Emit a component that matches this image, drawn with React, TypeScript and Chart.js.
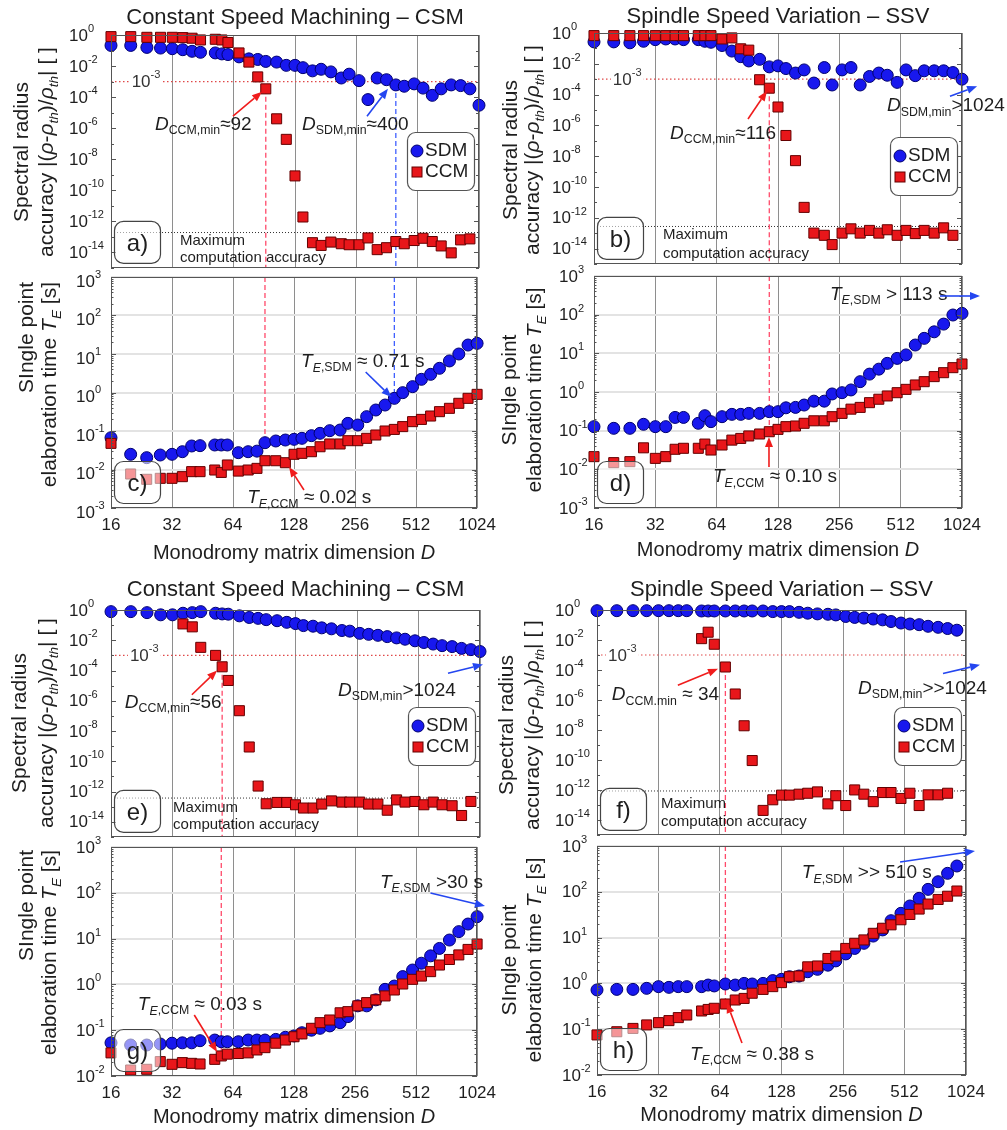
import React, { useEffect, useRef } from 'react';
import { Chart, registerables } from 'chart.js';

Chart.register(...registerables);

const FONT = '"Liberation Sans", Arial, Helvetica, sans-serif';

// ---------------- DATA ----------------
// Monodromy matrix dimension D (shared x positions)
const D_VALUES = [16, 20, 24, 28, 32, 36, 40, 44, 52, 56, 60, 68, 76, 84, 92, 104, 116, 128, 140, 156, 172, 192, 216, 236, 264, 292, 324, 360, 400, 440, 492, 544, 604, 668, 748, 832, 924, 1024];
const X_TICKS = [16, 32, 64, 128, 256, 512, 1024];
const ACC_EXPONENTS = [0, -2, -4, -6, -8, -10, -12, -14];
const TIME_EXPONENTS_CD = [3, 2, 1, 0, -1, -2, -3];
const TIME_EXPONENTS_GH = [3, 2, 1, 0, -1, -2];

// a) CSM spectral radius accuracy
const csmAccuracySDM = [0.213, 0.213, 0.159, 0.144, 0.131, 0.113, 0.089, 0.077, 0.070, 0.0605, 0.055, 0.039, 0.029, 0.0266, 0.0199, 0.018, 0.0111, 0.0111, 0.0079, 0.0049, 0.0062, 0.0042, 0.0017, 0.003, 0.00115, 6.9e-5, 0.0017, 0.00132, 6.1e-4, 5.0e-4, 7.1e-4, 3.8e-4, 1.3e-4, 3.4e-4, 6.1e-4, 5.5e-4, 3.4e-4, 3.0e-5];
const csmAccuracyCCM = [0.785, 0.785, 0.71, 0.71, 0.71, 0.68, 0.62, 0.48, 0.53, 0.48, 0.33, 0.070, 0.018, 0.002, 3.4e-4, 4.0e-6, 1.9e-7, 8.4e-10, 1.9e-12, 4.2e-14, 2.8e-14, 4.6e-14, 3.6e-14, 3.1e-14, 3.1e-14, 8.5e-14, 1.5e-14, 2.0e-14, 5.0e-14, 3.6e-14, 5.8e-14, 8.1e-14, 5.0e-14, 2.6e-14, 9.3e-15, 6.4e-14, 7.4e-14, null];

// b) SSV spectral radius accuracy
const ssvAccuracySDM = [0.265, 0.265, 0.23, 0.29, 0.37, 0.41, 0.41, 0.37, 0.37, 0.29, 0.25, 0.154, 0.067, 0.029, 0.0153, 0.0195, 0.0063, 0.0073, 0.0049, 0.0025, 0.004, 5.6e-4, 0.0057, 4.2e-4, 0.004, 0.0057, 4.2e-4, 0.0015, 0.0025, 0.0018, 6.2e-4, 0.004, 0.0017, 0.0035, 0.0035, 0.0035, 0.0027, 0.001];
const ssvAccuracyCCM = [0.675, 0.675, 0.675, 0.675, 0.675, 0.675, 0.675, 0.675, 0.675, 0.675, 0.675, 0.41, 0.48, 0.094, 0.077, 9.2e-4, 2.6e-4, 1.56e-5, 2.2e-7, 5.1e-9, 4.7e-12, 1.0e-13, 7.2e-14, 1.8e-14, 1.0e-13, 1.9e-13, 1.0e-13, 1.5e-13, 1.0e-13, 1.65e-13, 7.2e-14, 1.5e-13, 9.3e-14, 1.5e-13, 1.0e-13, 2.2e-13, 7.2e-14, null];

// c) CSM elaboration time [s]
const csmTimeSDM = [0.067, 0.0248, 0.0203, 0.0238, 0.0248, 0.029, 0.0408, 0.0416, 0.0433, 0.0433, 0.0433, 0.0274, 0.029, 0.030, 0.0497, 0.055, 0.0583, 0.0608, 0.0645, 0.0757, 0.087, 0.102, 0.106, 0.158, 0.143, 0.236, 0.351, 0.473, 0.705, 0.99, 1.42, 2.2, 2.96, 4.25, 6.6, 10.0, 17.1, 18.9];
const csmTimeCCM = [0.0478, 0.00764, 0.00556, 0.0059, 0.0059, 0.00652, 0.0088, 0.0088, 0.0097, 0.0084, 0.0131, 0.0091, 0.0097, 0.0107, 0.0169, 0.0169, 0.015, 0.0248, 0.0263, 0.029, 0.039, 0.046, 0.046, 0.056, 0.056, 0.0645, 0.0787, 0.100, 0.110, 0.13, 0.175, 0.20, 0.245, 0.318, 0.388, 0.524, 0.705, 0.895];

// d) SSV elaboration time [s]
const ssvTimeSDM = [0.127, 0.115, 0.115, 0.146, 0.127, 0.127, 0.22, 0.22, 0.155, 0.244, 0.171, 0.23, 0.264, 0.264, 0.28, 0.28, 0.31, 0.31, 0.39, 0.40, 0.46, 0.58, 0.58, 0.89, 0.96, 1.13, 1.85, 2.9, 3.9, 5.5, 7.4, 9.1, 16.4, 24.4, 36, 57, 98, 108];
const ssvTimeCCM = [0.0213, 0.0149, 0.0158, 0.036, 0.0192, 0.0213, 0.033, 0.035, 0.035, 0.045, 0.0316, 0.0426, 0.057, 0.063, 0.073, 0.082, 0.094, 0.108, 0.127, 0.132, 0.155, 0.18, 0.18, 0.23, 0.28, 0.36, 0.40, 0.53, 0.65, 0.79, 0.96, 1.17, 1.52, 1.85, 2.5, 3.16, 4.26, 5.3];

// e) CSM (second case) spectral radius accuracy
const csm2AccuracySDM = [0.78, 0.78, 0.67, 0.48, 0.48, 0.61, 0.67, 0.78, 0.61, 0.55, 0.53, 0.41, 0.32, 0.28, 0.23, 0.196, 0.153, 0.126, 0.093, 0.085, 0.066, 0.057, 0.044, 0.040, 0.0285, 0.0246, 0.0212, 0.0174, 0.0143, 0.0117, 0.0092, 0.0071, 0.0056, 0.0044, 0.0038, 0.0029, 0.0024, 0.0018];
const csm2AccuracyCCM = [null, null, null, null, null, 0.12, 0.077, 0.0034, 1.0e-3, 1.76e-4, 2.2e-5, 2.2e-7, 8.8e-10, 2.3e-12, 1.55e-13, 1.9e-13, 1.9e-13, 1.33e-13, 8.1e-14, 8.1e-14, 1.48e-13, 2.4e-13, 2.0e-13, 2.0e-13, 2.0e-13, 1.48e-13, 1.48e-13, 5.8e-14, 2.8e-13, 2.0e-13, 2.2e-13, 1.33e-13, 2.0e-13, 1.33e-13, 1.15e-13, 2.6e-14, 2.2e-13, null];

// f) SSV (second case) spectral radius accuracy
const ssv2AccuracySDM = [0.9, 0.9, 0.9, 0.9, 0.9, 0.9, 0.9, 0.9, 0.86, 0.86, 0.86, 0.86, 0.86, 0.86, 0.86, 0.86, 0.78, 0.78, 0.78, 0.70, 0.61, 0.55, 0.52, 0.47, 0.37, 0.32, 0.29, 0.25, 0.22, 0.17, 0.135, 0.116, 0.105, 0.082, 0.070, 0.058, 0.045, null];
const ssv2AccuracyCCM = [null, null, null, null, null, null, null, null, 0.0123, 0.033, 0.0052, 1.58e-4, 2.5e-6, 1.9e-8, 9.1e-11, 4.3e-14, 2.2e-13, 4.5e-13, 4.5e-13, 5.2e-13, 6.0e-13, 7.4e-13, 1.17e-13, 4.1e-13, 9.1e-14, 1.0e-12, 5.2e-13, 1.65e-13, 6.7e-13, 6.7e-13, 2.7e-13, 6.0e-13, 9.1e-14, 4.7e-13, 4.7e-13, 6.0e-13, null, null];

// g) CSM (second case) elaboration time [s]
const csm2TimeSDM = [0.053, 0.0475, 0.0475, 0.050, 0.052, 0.053, 0.053, 0.059, 0.061, 0.056, 0.056, 0.056, 0.061, 0.061, 0.061, 0.063, 0.07, 0.075, 0.088, 0.10, 0.11, 0.124, 0.146, 0.198, 0.34, 0.34, 0.46, 0.78, 0.92, 1.48, 2.06, 2.9, 4.2, 6.1, 9.3, 14.2, 20.8, 30.1];
const csm2TimeCCM = [0.032, 0.0135, 0.014, 0.0206, 0.018, 0.0196, 0.0189, 0.0183, 0.0231, 0.0274, 0.030, 0.031, 0.032, 0.037, 0.0416, 0.052, 0.061, 0.072, 0.083, 0.11, 0.146, 0.167, 0.24, 0.254, 0.34, 0.40, 0.46, 0.56, 0.755, 1.02, 1.29, 1.52, 1.9, 2.65, 3.5, 4.4, 5.8, 7.6];

// h) SSV (second case) elaboration time [s]
const ssv2TimeSDM = [0.72, 0.74, 0.74, 0.78, 0.85, 0.82, 0.85, 0.85, 0.85, 0.92, 0.88, 0.97, 0.92, 1.0, 0.97, 1.0, 1.15, 1.23, 1.40, 1.45, 1.80, 2.03, 2.5, 3.1, 4.4, 5.8, 7.5, 10.8, 14.7, 23.4, 33.9, 49, 72, 113, 166, 253, 366, null];
const ssv2TimeCCM = [0.075, 0.088, 0.104, 0.124, 0.139, 0.154, 0.179, 0.204, 0.25, 0.27, 0.286, 0.355, 0.434, 0.47, 0.61, 0.74, 0.85, 1.04, 1.4, 1.45, 2.3, 2.4, 3.5, 3.96, 5.8, 7.5, 8.9, 12.4, 16.0, 19, 24.5, 32, 42, 54, 68, 80, 104, null];

// ---------------- STYLE ----------------
const BLUE = '#1818ee';
const BLUE_EDGE = '#00006e';
const RED = '#e8161a';
const RED_EDGE = '#640000';
const RED_LINE = '#ff4a6a';
const BLUE_LINE = '#4060ff';
const ARROW_RED = '#f01c1c';
const ARROW_BLUE = '#2446f0';
const TEXT = '#1e1e1e';

type Seg = { t: string; i?: boolean; sub?: boolean; sup?: boolean };

const segD = (sub: string, rest: string): Seg[] => [{ t: 'D', i: true }, { t: sub, sub: true }, { t: rest }];
const segT = (sub: string, rest: string): Seg[] => [{ t: 'T', i: true }, { t: 'E', sub: true, i: true }, { t: sub, sub: true }, { t: rest }];

const ACC_TITLE: Seg[][] = [
  [{ t: 'Spectral radius' }],
  [{ t: 'accuracy |(' }, { t: 'ρ', i: true }, { t: '-' }, { t: 'ρ', i: true }, { t: 'th', sub: true, i: true }, { t: ')/' }, { t: 'ρ', i: true }, { t: 'th', sub: true, i: true }, { t: '| [ ]' }],
];
const TIME_TITLE: Seg[][] = [
  [{ t: 'SIngle point' }],
  [{ t: 'elaboration time ' }, { t: 'T', i: true }, { t: 'E', sub: true, i: true }, { t: ' [s]' }],
];
const X_TITLE: Seg[] = [{ t: 'Monodromy matrix dimension ' }, { t: 'D', i: true }];

function fontOf(size: number, italic?: boolean) {
  return `${italic ? 'italic ' : ''}${size}px ${FONT}`;
}

function richWidth(ctx: CanvasRenderingContext2D, segs: Seg[], size: number) {
  let w = 0;
  for (const s of segs) {
    const sz = s.sub || s.sup ? size * 0.65 : size;
    ctx.font = fontOf(sz, s.i);
    w += ctx.measureText(s.t).width;
  }
  return w;
}

function drawRich(ctx: CanvasRenderingContext2D, segs: Seg[], x: number, y: number, size: number, align: string, color: string) {
  const w = richWidth(ctx, segs, size);
  let px = align === 'left' ? x : align === 'center' ? x - w / 2 : x - w;
  ctx.fillStyle = color;
  ctx.textAlign = 'left';
  ctx.textBaseline = 'middle';
  for (const s of segs) {
    const sz = s.sub || s.sup ? size * 0.65 : size;
    ctx.font = fontOf(sz, s.i);
    const dy = s.sub ? size * 0.32 : s.sup ? -size * 0.42 : 0;
    ctx.fillText(s.t, px, y + dy);
    px += ctx.measureText(s.t).width;
  }
  return w;
}

function drawArrow(ctx: CanvasRenderingContext2D, x1: number, y1: number, x2: number, y2: number, color: string) {
  const ang = Math.atan2(y2 - y1, x2 - x1);
  const head = 10;
  const hw = 4;
  const bx = x2 - head * Math.cos(ang);
  const by = y2 - head * Math.sin(ang);
  ctx.strokeStyle = color;
  ctx.fillStyle = color;
  ctx.lineWidth = 1.6;
  ctx.setLineDash([]);
  ctx.beginPath();
  ctx.moveTo(x1, y1);
  ctx.lineTo(bx, by);
  ctx.stroke();
  ctx.beginPath();
  ctx.moveTo(x2, y2);
  ctx.lineTo(bx + hw * Math.sin(ang), by - hw * Math.cos(ang));
  ctx.lineTo(bx - hw * Math.sin(ang), by + hw * Math.cos(ang));
  ctx.closePath();
  ctx.fill();
}

function roundRect(ctx: CanvasRenderingContext2D, x: number, y: number, w: number, h: number, r: number) {
  ctx.beginPath();
  ctx.moveTo(x + r, y);
  ctx.lineTo(x + w - r, y);
  ctx.arcTo(x + w, y, x + w, y + r, r);
  ctx.lineTo(x + w, y + h - r);
  ctx.arcTo(x + w, y + h, x + w - r, y + h, r);
  ctx.lineTo(x + r, y + h);
  ctx.arcTo(x, y + h, x, y + h - r, r);
  ctx.lineTo(x, y + r);
  ctx.arcTo(x, y, x + r, y, r);
  ctx.closePath();
}

// ---------------- PANEL LAYOUT / ANNOTATIONS ----------------
const PANELS: any[] = [
  {
    id: 'a', kind: 'acc', box: [0, 0, 503, 276], area: [111, 35, 479, 273], yMin: 1e-15, yMax: 1, yExps: ACC_EXPONENTS, tickDy: 1,
    sdm: csmAccuracySDM, ccm: csmAccuracyCCM, title: 'Constant Speed Machining – CSM', titleY: 18, letter: 'a)', legendTop: 97,
    yTitle: { x: [22, 47], mode: 'center', y: 152 }, maxAcc: 1.9e-13, tenX: 20.2,
    vlines: [{ x: 92, from: 3.4e-4, to: 'bottom', color: RED_LINE }, { x: 400, from: 6.1e-4, to: 'bottom', color: BLUE_LINE }],
    texts: [
      { x: 26.3, y: 1.6e-6, segs: segD('CCM,min', '≈92'), size: 19 },
      { x: 138.6, y: 1.6e-6, segs: segD('SDM,min', '≈400'), size: 19 },
      { x: 34.9, y: 5.9e-14, segs: [{ t: 'Maximum' }], size: 15 },
      { x: 34.9, y: 4.3e-15, segs: [{ t: 'computation accuracy' }], size: 15 },
    ],
    arrows: [
      { x1: 63.5, y1: 5.9e-6, x2: 88.2, y2: 2.2e-4, color: ARROW_RED },
      { x1: 288.8, y1: 5.9e-6, x2: 366, y2: 3.4e-4, color: ARROW_BLUE },
    ],
  },
  {
    id: 'b', kind: 'acc', box: [490, 0, 517, 272], area: [594, 33, 962, 267], yMin: 1e-15, yMax: 1, yExps: ACC_EXPONENTS, tickDy: 1,
    sdm: ssvAccuracySDM, ccm: ssvAccuracyCCM, title: 'Spindle Speed Variation – SSV', titleY: 17, letter: 'b)', legendTop: 104,
    yTitle: { x: [511, 533], mode: 'center', y: 150 }, maxAcc: 2.7e-13, tenX: 19.8,
    vlines: [{ x: 116, from: 2.6e-4, to: 'bottom', color: RED_LINE }],
    texts: [
      { x: 37.8, y: 2.9e-7, segs: segD('CCM,min', '≈116'), size: 19 },
      { x: 438.6, y: 1.8e-5, segs: segD('SDM,min', '>1024'), size: 19 },
      { x: 34.9, y: 7.2e-14, segs: [{ t: 'Maximum' }], size: 15 },
      { x: 34.9, y: 4.4e-15, segs: [{ t: 'computation accuracy' }], size: 15 },
    ],
    arrows: [
      { x1: 91.2, y1: 2.6e-6, x2: 113, y2: 1.7e-4, color: ARROW_RED },
      { x1: 894, y1: 7.9e-5, x2: 1214, y2: 3.5e-4, color: ARROW_BLUE },
    ],
  },
  {
    id: 'c', kind: 'time', box: [0, 262, 503, 302], area: [111, 277, 479, 508], yMin: 1e-3, yMax: 1e3, yExps: TIME_EXPONENTS_CD, tickDy: 5,
    sdm: csmTimeSDM, ccm: csmTimeCCM, letter: 'c)', xLabels: true, xTitleY: 553,
    yTitle: { x: [27, 50], mode: 'top', y: 282 },
    vlines: [{ x: 92, from: 'top', to: 0.0497, color: RED_LINE }, { x: 400, from: 'top', to: 0.705, color: BLUE_LINE }],
    texts: [
      { x: 138.6, y: 6.2, segs: segT(',SDM', ' ≈ 0.71 s'), size: 19 },
      { x: 75.2, y: 0.0018, segs: segT(',CCM', ' ≈ 0.02 s'), size: 19 },
    ],
    arrows: [
      { x1: 288.8, y1: 3.4, x2: 387, y2: 0.76, color: ARROW_BLUE },
      { x1: 143.3, y1: 0.00294, x2: 121, y2: 0.0116, color: ARROW_RED },
    ],
  },
  {
    id: 'd', kind: 'time', box: [490, 262, 517, 302], area: [594, 276, 962, 508], yMin: 1e-3, yMax: 1e3, yExps: TIME_EXPONENTS_CD, tickDy: 1,
    sdm: ssvTimeSDM, ccm: ssvTimeCCM, letter: 'd)', xLabels: true, xTitleY: 550,
    yTitle: { x: [510, 535], mode: 'center', y: 390 },
    vlines: [{ x: 116, from: 'top', to: 0.094, color: RED_LINE }],
    texts: [
      { x: 230.4, y: 323, segs: segT(',SDM', ' > 113 s'), size: 19 },
      { x: 61.4, y: 0.0063, segs: segT(',CCM', ' ≈ 0.10 s'), size: 19 },
    ],
    arrows: [
      { x1: 798.6, y1: 304, x2: 1255, y2: 304, color: ARROW_BLUE },
      { x1: 115.6, y1: 0.0115, x2: 115.6, y2: 0.0687, color: ARROW_RED },
    ],
  },
  {
    id: 'e', kind: 'acc', box: [0, 560, 503, 285], area: [111, 610, 480, 843], yMin: 1e-15, yMax: 1, yExps: ACC_EXPONENTS, tickDy: 1,
    sdm: csm2AccuracySDM, ccm: csm2AccuracyCCM, title: 'Constant Speed Machining – CSM', titleY: 590, letter: 'e)', legendTop: 97,
    yTitle: { x: [20, 47], mode: 'center', y: 723 }, maxAcc: 3.7e-13, tenX: 19.8,
    vlines: [{ x: 56, from: 1.76e-4, to: 'bottom', color: RED_LINE }],
    texts: [
      { x: 18.7, y: 7.6e-7, segs: segD('CCM,min', '≈56'), size: 19 },
      { x: 206.6, y: 4.5e-6, segs: segD('SDM,min', '>1024'), size: 19 },
      { x: 32.2, y: 8.5e-14, segs: [{ t: 'Maximum' }], size: 15 },
      { x: 32.2, y: 5.9e-15, segs: [{ t: 'computation accuracy' }], size: 15 },
    ],
    arrows: [
      { x1: 39.8, y1: 2.5e-6, x2: 52.9, y2: 1.0e-4, color: ARROW_RED },
      { x1: 714, y1: 6.5e-5, x2: 1059, y2: 2.5e-4, color: ARROW_BLUE },
    ],
  },
  {
    id: 'f', kind: 'acc', box: [490, 560, 517, 283], area: [597, 610, 966, 840], yMin: 1e-15, yMax: 1, yExps: ACC_EXPONENTS, tickDy: 1,
    sdm: ssv2AccuracySDM, ccm: ssv2AccuracyCCM, title: 'Spindle Speed Variation – SSV', titleY: 590, letter: 'f)', legendTop: 97,
    yTitle: { x: [507, 533], mode: 'center', y: 725 }, maxAcc: 8.5e-13, tenX: 18.1,
    vlines: [{ x: 68, from: 1.58e-4, to: 'bottom', color: RED_LINE }],
    texts: [
      { x: 18.9, y: 2.1e-6, segs: segD('CCM.min', ' ≈ 34'), size: 19 },
      { x: 303, y: 6.0e-6, segs: segD('SDM,min', '>>1024'), size: 19 },
      { x: 32.9, y: 1.2e-13, segs: [{ t: 'Maximum' }], size: 15 },
      { x: 32.9, y: 6.9e-15, segs: [{ t: 'computation accuracy' }], size: 15 },
    ],
    arrows: [
      { x1: 39.8, y1: 9.5e-6, x2: 62.6, y2: 1.2e-4, color: ARROW_RED },
      { x1: 790, y1: 5.8e-5, x2: 1199, y2: 2.2e-4, color: ARROW_BLUE },
    ],
  },
  {
    id: 'g', kind: 'time', box: [0, 835, 503, 295], area: [111, 847, 480, 1076], yMin: 1e-2, yMax: 1e3, yExps: TIME_EXPONENTS_GH, tickDy: 1,
    sdm: csm2TimeSDM, ccm: csm2TimeCCM, letter: 'g)', xLabels: true, xTitleY: 1117,
    yTitle: { x: [27, 50], mode: 'top', y: 850 },
    vlines: [{ x: 56, from: 'top', to: 0.0274, color: RED_LINE }],
    texts: [
      { x: 339.5, y: 164, segs: segT(',SDM', ' >30 s'), size: 19 },
      { x: 21.7, y: 0.355, segs: segT(',CCM', ' ≈ 0.03 s'), size: 19 },
    ],
    arrows: [
      { x1: 603, y1: 99, x2: 1120, y2: 51.5, color: ARROW_BLUE },
      { x1: 41.2, y1: 0.215, x2: 53.4, y2: 0.0334, color: ARROW_RED },
    ],
  },
  {
    id: 'h', kind: 'time', box: [490, 833, 517, 297], area: [597, 846, 966, 1075], yMin: 1e-2, yMax: 1e3, yExps: TIME_EXPONENTS_GH, tickDy: 1,
    sdm: ssv2TimeSDM, ccm: ssv2TimeCCM, letter: 'h)', xLabels: true, xTitleY: 1115,
    yTitle: { x: [510, 535], mode: 'center', y: 960 },
    vlines: [{ x: 68, from: 'top', to: 0.355, color: RED_LINE }],
    texts: [
      { x: 161, y: 257, segs: segT(',SDM', ' >> 510 s'), size: 19 },
      { x: 45.6, y: 0.0274, segs: segT(',CCM', ' ≈ 0.38 s'), size: 19 },
    ],
    arrows: [
      { x1: 487, y1: 448, x2: 1133, y2: 778, color: ARROW_BLUE },
      { x1: 82, y1: 0.05, x2: 69.2, y2: 0.373, color: ARROW_RED },
    ],
  },
];

function toPoints(values: (number | null)[]) {
  const pts: { x: number; y: number }[] = [];
  values.forEach((v, i) => {
    if (v !== null && v !== undefined) pts.push({ x: D_VALUES[i], y: v });
  });
  return pts;
}

function makePlugin(cfg: any) {
  const [cx, cy] = cfg.box;
  return {
    id: 'deco_' + cfg.id,
    beforeDatasetsDraw(chart: any) {
      const ctx: CanvasRenderingContext2D = chart.ctx;
      const a = chart.chartArea;
      const xs = chart.scales.x;
      const ys = chart.scales.y;
      ctx.save();
      if (cfg.kind === 'acc') {
        // 1e-3 threshold (red dotted)
        const y3 = ys.getPixelForValue(1e-3);
        ctx.strokeStyle = '#e04848';
        ctx.lineWidth = 1.2;
        ctx.setLineDash([1.5, 2.5]);
        ctx.beginPath();
        ctx.moveTo(a.left, y3);
        ctx.lineTo(a.right, y3);
        ctx.stroke();
        // maximum computation accuracy (black dotted)
        const ym = ys.getPixelForValue(cfg.maxAcc);
        ctx.strokeStyle = '#333';
        ctx.lineWidth = 1;
        ctx.setLineDash([1, 2]);
        ctx.beginPath();
        ctx.moveTo(a.left, ym);
        ctx.lineTo(a.right, ym);
        ctx.stroke();
        // label 10^-3
        const segs: Seg[] = [{ t: '10' }, { t: '-3', sup: true }];
        const lx = xs.getPixelForValue(cfg.tenX);
        const w = richWidth(ctx, segs, 17);
        ctx.fillStyle = '#fff';
        ctx.fillRect(lx - 2, y3 - 8, w + 4, 15);
        drawRich(ctx, segs, lx, y3 + 1, 17, 'left', '#333');
      }
      // vertical dashed marker lines
      for (const v of cfg.vlines) {
        const x = xs.getPixelForValue(v.x);
        const y1 = v.from === 'top' ? a.top : ys.getPixelForValue(v.from);
        const y2 = v.to === 'bottom' ? a.bottom : ys.getPixelForValue(v.to);
        ctx.strokeStyle = v.color;
        ctx.lineWidth = 1.3;
        ctx.setLineDash([5, 3]);
        ctx.beginPath();
        ctx.moveTo(x, y1);
        ctx.lineTo(x, y2);
        ctx.stroke();
      }
      ctx.restore();
    },
    afterDatasetsDraw(chart: any) {
      const ctx: CanvasRenderingContext2D = chart.ctx;
      const a = chart.chartArea;
      const xs = chart.scales.x;
      const ys = chart.scales.y;
      ctx.save();
      ctx.setLineDash([]);
      // frame
      ctx.strokeStyle = '#555';
      ctx.lineWidth = 1;
      ctx.strokeRect(Math.round(a.left) + 0.5, Math.round(a.top) + 0.5, Math.round(a.right - a.left) - 1, Math.round(a.bottom - a.top) - 1);
      // y ticks (major + minor), both sides
      ctx.strokeStyle = '#555';
      const lo = Math.round(Math.log10(cfg.yMin));
      const hi = Math.round(Math.log10(cfg.yMax));
      for (let e = lo; e <= hi; e++) {
        const major = cfg.yExps.indexOf(e) >= 0;
        const y = Math.round(ys.getPixelForValue(Math.pow(10, e))) + 0.5;
        const len = major ? 5 : 3;
        ctx.beginPath();
        ctx.moveTo(a.left, y); ctx.lineTo(a.left + len, y);
        ctx.moveTo(a.right, y); ctx.lineTo(a.right - len, y);
        ctx.stroke();
        if (cfg.kind === 'time' && e < hi) {
          for (let m = 2; m <= 9; m++) {
            const ym = Math.round(ys.getPixelForValue(m * Math.pow(10, e))) + 0.5;
            ctx.beginPath();
            ctx.moveTo(a.left, ym); ctx.lineTo(a.left + 2.5, ym);
            ctx.moveTo(a.right, ym); ctx.lineTo(a.right - 2.5, ym);
            ctx.stroke();
          }
        }
      }
      // y tick labels (10^n)
      const off = cfg.kind === 'acc' ? 42 : 35;
      for (const e of cfg.yExps) {
        const y = ys.getPixelForValue(Math.pow(10, e)) + cfg.tickDy;
        drawRich(ctx, [{ t: '10' }, { t: String(e), sup: true }], a.left - off, y, 17, 'left', TEXT);
      }
      // annotation texts
      for (const t of cfg.texts) {
        drawRich(ctx, t.segs, xs.getPixelForValue(t.x), ys.getPixelForValue(t.y), t.size, 'left', TEXT);
      }
      // arrows
      for (const r of cfg.arrows) {
        drawArrow(ctx, xs.getPixelForValue(r.x1), ys.getPixelForValue(r.y1), xs.getPixelForValue(r.x2), ys.getPixelForValue(r.y2), r.color);
      }
      // legend box
      if (cfg.kind === 'acc') {
        const lw = 67, lh = 58;
        const lx = a.right - 5 - lw;
        const ly = a.top + cfg.legendTop;
        roundRect(ctx, lx + 0.5, ly + 0.5, lw, lh, 8);
        ctx.fillStyle = '#fff';
        ctx.fill();
        ctx.strokeStyle = '#555';
        ctx.lineWidth = 1.2;
        ctx.stroke();
        ctx.beginPath();
        ctx.arc(lx + 10, ly + 19, 6, 0, Math.PI * 2);
        ctx.fillStyle = BLUE;
        ctx.fill();
        ctx.strokeStyle = BLUE_EDGE;
        ctx.lineWidth = 1;
        ctx.stroke();
        ctx.fillStyle = RED;
        ctx.fillRect(lx + 5, ly + 35, 10, 10);
        ctx.strokeStyle = RED_EDGE;
        ctx.strokeRect(lx + 5, ly + 35, 10, 10);
        drawRich(ctx, [{ t: 'SDM' }], lx + 18, ly + 19, 19, 'left', TEXT);
        drawRich(ctx, [{ t: 'CCM' }], lx + 18, ly + 40, 19, 'left', TEXT);
      }
      // panel letter box
      roundRect(ctx, a.left + 3.5, a.bottom - 46.5, 46, 42, 9);
      ctx.fillStyle = 'rgba(255,255,255,0.55)';
      ctx.fill();
      ctx.strokeStyle = '#444';
      ctx.lineWidth = 1.2;
      ctx.stroke();
      drawRich(ctx, [{ t: cfg.letter }], a.left + 26.5, a.bottom - 24, 24, 'center', TEXT);
      // title
      if (cfg.title) {
        drawRich(ctx, [{ t: cfg.title }], (a.left + a.right) / 2, cfg.titleY - cy, 22, 'center', TEXT);
      }
      // x axis title
      if (cfg.xLabels) {
        drawRich(ctx, X_TITLE, (a.left + a.right) / 2, cfg.xTitleY - cy, 20, 'center', TEXT);
      }
      // y axis title (two rotated lines)
      const lines = cfg.kind === 'acc' ? ACC_TITLE : TIME_TITLE;
      lines.forEach((segs: Seg[], k: number) => {
        ctx.save();
        ctx.translate(cfg.yTitle.x[k] - cx, cfg.yTitle.y - cy);
        ctx.rotate(-Math.PI / 2);
        drawRich(ctx, segs, 0, 0, 21, cfg.yTitle.mode === 'center' ? 'center' : 'right', TEXT);
        ctx.restore();
      });
      ctx.restore();
    },
  };
}

function Panel({ cfg }: { cfg: any }) {
  const ref = useRef<HTMLCanvasElement>(null);
  const [cx, cy, cw, ch] = cfg.box;
  useEffect(() => {
    const canvas = ref.current;
    if (!canvas) return;
    const [L, T, R, B] = cfg.area;
    const chart = new Chart(canvas, {
      type: 'scatter',
      data: {
        datasets: [
          {
            label: 'CCM',
            data: toPoints(cfg.ccm),
            pointStyle: 'rect',
            pointRadius: 7.1,
            backgroundColor: RED,
            borderColor: RED_EDGE,
            borderWidth: 1,
            clip: false,
          },
          {
            label: 'SDM',
            data: toPoints(cfg.sdm),
            pointStyle: 'circle',
            pointRadius: 6,
            backgroundColor: BLUE,
            borderColor: BLUE_EDGE,
            borderWidth: 1,
            clip: false,
          },
        ],
      } as any,
      options: {
        responsive: false,
        animation: false,
        devicePixelRatio: 1,
        events: [],
        layout: { padding: { left: 0, top: T - cy, right: cx + cw - R, bottom: 0 } },
        plugins: { legend: { display: false }, tooltip: { enabled: false }, title: { display: false } },
        scales: {
          x: {
            type: 'logarithmic',
            min: 16,
            max: 1024,
            afterBuildTicks: (s: any) => { s.ticks = X_TICKS.map((v) => ({ value: v })); },
            afterFit: (s: any) => { s.height = cy + ch - B; },
            grid: { color: '#8e8e8e', lineWidth: 1, drawTicks: false },
            border: { display: false },
            ticks: {
              display: !!cfg.xLabels,
              autoSkip: false,
              maxRotation: 0,
              minRotation: 0,
              padding: 7,
              color: TEXT,
              font: { family: FONT, size: 17 },
              callback: (v: any) => String(v),
            },
          },
          y: {
            type: 'logarithmic',
            min: cfg.yMin,
            max: cfg.yMax,
            afterBuildTicks: (s: any) => { s.ticks = cfg.yExps.map((e: number) => ({ value: Math.pow(10, e) })); },
            afterFit: (s: any) => { s.width = L - cx; },
            grid: { display: cfg.kind === 'time', color: '#e3e3e3', lineWidth: 2, drawTicks: false },
            border: { display: false },
            ticks: { display: false },
          },
        },
      } as any,
      plugins: [makePlugin(cfg)],
    });
    return () => chart.destroy();
  }, []);
  return (
    <canvas
      ref={ref}
      width={cw}
      height={ch}
      style={{ position: 'absolute', left: cx, top: cy, width: cw, height: ch }}
    />
  );
}

export default function App() {
  return (
    <div style={{ position: 'absolute', left: 0, top: 0, width: 1007, height: 1130, background: '#ffffff', overflow: 'hidden' }}>
      {PANELS.map((p) => (
        <Panel key={p.id} cfg={p} />
      ))}
    </div>
  );
}
